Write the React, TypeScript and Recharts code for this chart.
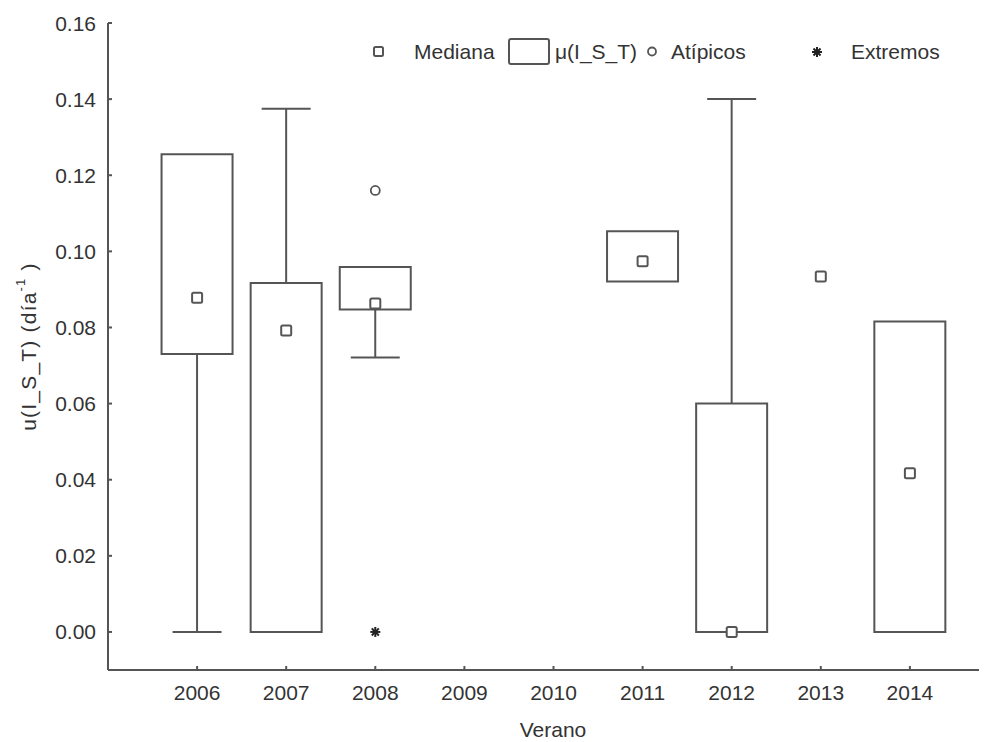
import { ComposedChart, Bar, Scatter, XAxis, YAxis } from "recharts";

// Box plot of u(I_S_T) per summer
const years = [2006, 2007, 2008, 2009, 2010, 2011, 2012, 2013, 2014];
const q1 = [0.073, 0, 0.0847, null, null, 0.0921, 0, null, 0];
const q3 = [0.1255, 0.0917, 0.0959, null, null, 0.1053, 0.06, null, 0.0816];
const medians = [0.0878, 0.0792, 0.0863, null, null, 0.0974, 0, 0.0934, 0.0417];
const whiskerLow = [0, null, 0.0721, null, null, null, null, null, null];
const whiskerHigh = [null, 0.1375, null, null, null, null, 0.14, null, null];
const outliers = [{ year: 2008, v: 0.116 }];
const extremes = [{ year: 2008, v: 0 }];
const yTicks = [0, 0.02, 0.04, 0.06, 0.08, 0.1, 0.12, 0.14, 0.16];

const rows = years.map((year, i) => ({
  year,
  box: q1[i] !== null && q3[i] !== null ? [q1[i], q3[i]] : null,
  lowW: whiskerLow[i] !== null ? [whiskerLow[i], q1[i]] : null,
  upW: whiskerHigh[i] !== null ? [q3[i], whiskerHigh[i]] : null,
}));

const medianPts = years
  .map((year, i) => ({ year, v: medians[i] }))
  .filter((d) => d.v !== null);

const INK = "#555";
const TEXT = "#333";
const FONT = "'Liberation Sans', Arial, sans-serif";

function LowWhisker(props: any) {
  const { x, y, width, height } = props;
  if (height == null || width == null) return null;
  const cx = x + width / 2;
  return (
    <g stroke={INK} strokeWidth={2}>
      <line x1={cx} x2={cx} y1={y} y2={y + height} />
      <line x1={x} x2={x + width} y1={y + height} y2={y + height} />
    </g>
  );
}

function HighWhisker(props: any) {
  const { x, y, width, height } = props;
  if (height == null || width == null) return null;
  const cx = x + width / 2;
  return (
    <g stroke={INK} strokeWidth={2}>
      <line x1={cx} x2={cx} y1={y} y2={y + height} />
      <line x1={x} x2={x + width} y1={y} y2={y} />
    </g>
  );
}

function MedianMark({ cx, cy }: any) {
  return (
    <rect x={cx - 5} y={cy - 5} width={10} height={10} rx={1.5}
      fill="#fff" stroke={INK} strokeWidth={2} />
  );
}

function OutlierMark({ cx, cy }: any) {
  return <circle cx={cx} cy={cy} r={4.5} fill="#fff" stroke={INK} strokeWidth={1.8} />;
}

function Asterisk({ cx, cy }: any) {
  const r = 5;
  const d = r * 0.707;
  return (
    <g stroke="#222" strokeWidth={2}>
      <line x1={cx - r} x2={cx + r} y1={cy} y2={cy} />
      <line x1={cx} x2={cx} y1={cy - r} y2={cy + r} />
      <line x1={cx - d} x2={cx + d} y1={cy - d} y2={cy + d} />
      <line x1={cx - d} x2={cx + d} y1={cy + d} y2={cy - d} />
    </g>
  );
}

function YTick({ x, y, payload }: any) {
  return (
    <g>
      <line x1={x} x2={x + 4} y1={y} y2={y} stroke={INK} strokeWidth={2} />
      <text x={x - 12} y={y + 7.5} textAnchor="end" fill={TEXT}
        fontSize={21} fontFamily={FONT}>
        {Number(payload.value).toFixed(2)}
      </text>
    </g>
  );
}

function BottomTick({ x, y, payload }: any) {
  return (
    <g>
      <line x1={x} x2={x} y1={y} y2={y - 4} stroke={INK} strokeWidth={2} />
      <text x={x} y={y + 30} textAnchor="middle" fill={TEXT}
        fontSize={21} fontFamily={FONT}>
        {payload.value}
      </text>
    </g>
  );
}

function TopTick({ x, y }: any) {
  return <line x1={x} x2={x} y1={y} y2={y + 4} stroke={INK} strokeWidth={2} />;
}

function YLabel({ viewBox }: any) {
  const x = viewBox.x + 22;
  const y = viewBox.y + viewBox.height / 2;
  return (
    <text x={x} y={y} transform={`rotate(-90 ${x} ${y})`} textAnchor="middle"
      dominantBaseline="middle" fill={TEXT} fontSize={21} letterSpacing={1.2}
      fontFamily={FONT}>
      u(I_S_T) (día
      <tspan dy={-8} fontSize={13}>-1</tspan>
      <tspan dy={8}> )</tspan>
    </text>
  );
}

function XLabel({ viewBox }: any) {
  return (
    <text x={viewBox.x + 445} y={viewBox.y + 67} textAnchor="middle"
      fill={TEXT} fontSize={21} fontFamily={FONT}>
      Verano
    </text>
  );
}

function LegendBox() {
  const txt = { fill: TEXT, fontSize: 21, fontFamily: FONT } as const;
  return (
    <svg width={600} height={40} style={{ position: "absolute", left: 357, top: 24 }}>
      <rect x={9} y={15} width={9} height={9} rx={1.5} fill="#fff" stroke={INK} strokeWidth={2} />
      <text x={49} y={27} {...txt}>Mediana</text>
      <rect x={144} y={7} width={40} height={25} rx={2} fill="#fff" stroke={INK} strokeWidth={2} />
      <text x={190} y={27} {...txt}>μ(I_S_T)</text>
      <circle cx={287} cy={19.5} r={4} fill="#fff" stroke={INK} strokeWidth={1.8} />
      <text x={306} y={27} {...txt}>Atípicos</text>
      <Asterisk cx={452} cy={20} />
      <text x={486} y={27} {...txt}>Extremos</text>
    </svg>
  );
}

export default function App() {
  return (
    <div style={{ position: "relative", width: 979, height: 734, overflow: "hidden", background: "#fff" }}>
      <ComposedChart width={991} height={734} data={rows}
        margin={{ top: 15, right: 0, bottom: 0, left: 0 }}>
        <XAxis xAxisId="x" dataKey="year" type="number" domain={[2005, 2015]}
          ticks={years} interval={0} tickSize={0} tickMargin={0} tickLine={false}
          tick={<BottomTick />} height={72} stroke={INK} strokeWidth={2}
          label={<XLabel />} />
        <XAxis xAxisId="lw" dataKey="year" type="number" domain={[2005, 2015]}
          orientation="top" height={0} hide />
        <XAxis xAxisId="uw" dataKey="year" type="number" domain={[2005, 2015]}
          orientation="top" ticks={years} interval={0} height={0} tickSize={0}
          tickMargin={0} tickLine={false} tick={<TopTick />}
          stroke={INK} strokeWidth={2} />
        <YAxis type="number" domain={[-0.01, 0.16]} ticks={yTicks} interval={0}
          width={100} tickSize={0} tickMargin={0} tickLine={false}
          tick={<YTick />} stroke={INK} strokeWidth={2} label={<YLabel />}
          allowDataOverflow />
        <Bar xAxisId="lw" dataKey="lowW" barSize={49} shape={<LowWhisker />}
          isAnimationActive={false} />
        <Bar xAxisId="uw" dataKey="upW" barSize={49} shape={<HighWhisker />}
          isAnimationActive={false} />
        <Bar xAxisId="x" dataKey="box" barSize={71} fill="#fff" stroke={INK}
          strokeWidth={2} isAnimationActive={false} />
        <Scatter xAxisId="x" data={medianPts} dataKey="v" shape={<MedianMark />}
          isAnimationActive={false} />
        <Scatter xAxisId="x" data={outliers} dataKey="v" shape={<OutlierMark />}
          isAnimationActive={false} />
        <Scatter xAxisId="x" data={extremes} dataKey="v" shape={<Asterisk />}
          isAnimationActive={false} />
      </ComposedChart>
      <LegendBox />
    </div>
  );
}
